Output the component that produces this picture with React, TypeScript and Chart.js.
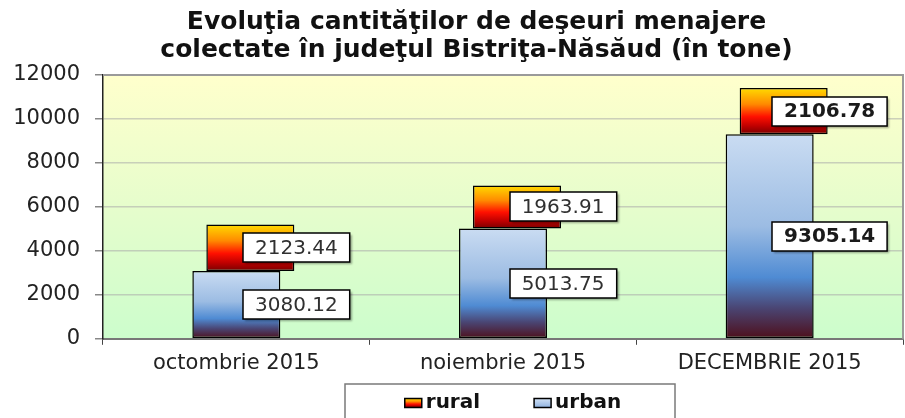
import React, { useEffect, useRef } from 'react';
import { Chart, registerables } from 'chart.js';
Chart.register(...registerables);

const categories = ['octombrie 2015', 'noiembrie 2015', 'DECEMBRIE 2015'];
const urbanValues = [3080.12, 5013.75, 9305.14];
const ruralValues = [2123.44, 1963.91, 2106.78];
const yMin = 0;
const yMax = 12000;
const yStep = 2000;
const titleLines = [
  'Evoluţia cantităţilor de deşeuri menajere',
  'colectate în judeţul Bistriţa-Năsăud (în tone)',
];
const legendNames = ['rural', 'urban'];
const boldLabelIndex = 2;

const FONT = '"DejaVu Sans", "Liberation Sans", Arial, sans-serif';
const RURAL_SHIFT = 14;

function urbanGradient(ctx: CanvasRenderingContext2D, top: number, bottom: number) {
  const g = ctx.createLinearGradient(0, top, 0, bottom);
  g.addColorStop(0, '#cadcf2');
  g.addColorStop(0.45, '#9cbce3');
  g.addColorStop(0.7, '#4f8bd3');
  g.addColorStop(0.85, '#4a4573');
  g.addColorStop(1, '#4e0e1a');
  return g;
}

function ruralGradient(ctx: CanvasRenderingContext2D, top: number, bottom: number) {
  const g = ctx.createLinearGradient(0, top, 0, bottom);
  g.addColorStop(0, '#ffdc00');
  g.addColorStop(0.35, '#ff8a00');
  g.addColorStop(0.62, '#ff1000');
  g.addColorStop(0.82, '#c00000');
  g.addColorStop(1, '#780000');
  return g;
}

const bgPlugin = {
  id: 'bgPlugin',
  beforeDraw(chart: any) {
    const { ctx, chartArea: a } = chart;
    ctx.save();
    ctx.fillStyle = '#ffffff';
    ctx.fillRect(0, 0, chart.width, chart.height);
    const g = ctx.createLinearGradient(0, a.top, 0, a.bottom);
    g.addColorStop(0, '#ffffcc');
    g.addColorStop(0.5, '#e6fdcc');
    g.addColorStop(1, '#ccfdcc');
    ctx.fillStyle = g;
    ctx.fillRect(a.left, a.top, a.right - a.left, a.bottom - a.top);
    ctx.restore();
  },
};

const shiftPlugin = {
  id: 'shiftPlugin',
  beforeDatasetDraw(chart: any, args: any) {
    if (args.index === 1) {
      chart.ctx.save();
      chart.ctx.translate(RURAL_SHIFT, 0);
    }
  },
  afterDatasetDraw(chart: any, args: any) {
    if (args.index === 1) chart.ctx.restore();
  },
};

const framePlugin = {
  id: 'framePlugin',
  beforeDatasetsDraw(chart: any) {
    const { ctx, chartArea: a } = chart;
    ctx.save();
    ctx.strokeStyle = '#9a9a9a';
    ctx.lineWidth = 2;
    ctx.beginPath();
    ctx.moveTo(a.left, a.top);
    ctx.lineTo(a.right, a.top);
    ctx.lineTo(a.right, a.bottom);
    ctx.stroke();
    ctx.restore();
  },
};

const labelPlugin = {
  id: 'labelPlugin',
  afterDatasetsDraw(chart: any) {
    const ctx = chart.ctx;
    const urbanMeta = chart.getDatasetMeta(0);
    const ruralMeta = chart.getDatasetMeta(1);
    const draw = (text: string, cx: number, cy: number, bold: boolean) => {
      ctx.save();
      ctx.font = `${bold ? 'bold ' : ''}20px ${FONT}`;
      const w = ctx.measureText(text).width + 24;
      const h = 29;
      const x = Math.round(cx - w / 2);
      const y = Math.round(cy - h / 2);
      ctx.shadowColor = 'rgba(0,0,0,0.35)';
      ctx.shadowOffsetX = 2;
      ctx.shadowOffsetY = 2;
      ctx.shadowBlur = 2;
      ctx.fillStyle = '#ffffff';
      ctx.fillRect(x, y, w, h);
      ctx.shadowColor = 'transparent';
      ctx.strokeStyle = '#000000';
      ctx.lineWidth = 1.5;
      ctx.strokeRect(x, y, w, h);
      ctx.fillStyle = bold ? '#1a1a1a' : '#303030';
      ctx.textAlign = 'center';
      ctx.textBaseline = 'middle';
      ctx.fillText(text, cx, cy + 1);
      ctx.restore();
    };
    urbanMeta.data.forEach((el: any, i: number) => {
      draw(urbanValues[i].toFixed(2), el.x + 60, (el.y + el.base) / 2, i === boldLabelIndex);
    });
    ruralMeta.data.forEach((el: any, i: number) => {
      draw(ruralValues[i].toFixed(2), el.x + 60, (el.y + el.base) / 2, i === boldLabelIndex);
    });
  },
};

const titlePlugin = {
  id: 'titlePlugin',
  afterDraw(chart: any) {
    const ctx = chart.ctx;
    ctx.save();
    ctx.font = `bold 25px ${FONT}`;
    ctx.fillStyle = '#111111';
    ctx.textAlign = 'center';
    ctx.textBaseline = 'middle';
    const cx = chart.width / 2 + 24;
    ctx.fillText(titleLines[0], cx, 22);
    ctx.fillText(titleLines[1], cx, 50);
    ctx.restore();
  },
};

const legendPlugin = {
  id: 'legendPlugin',
  afterDraw(chart: any) {
    const { ctx, chartArea: a } = chart;
    ctx.save();
    ctx.font = `bold 20px ${FONT}`;
    const sw = 17;
    const sh = 9;
    const gap = 4;
    const spacing = 54;
    const w1 = ctx.measureText(legendNames[0]).width;
    const w2 = ctx.measureText(legendNames[1]).width;
    const total = sw + gap + w1 + spacing + sw + gap + w2;
    const cx = (a.left + a.right) / 2 + 10;
    const cy = 403;
    const bw = 330;
    ctx.strokeStyle = '#7a7a7a';
    ctx.lineWidth = 1.5;
    ctx.strokeRect(Math.round(cx - 3 - bw / 2), 384, bw, 60);
    let x = cx - total / 2;
    const swatch = (fill: any) => {
      ctx.fillStyle = fill;
      ctx.fillRect(x, cy - sh / 2, sw, sh);
      ctx.strokeStyle = '#000';
      ctx.lineWidth = 1.5;
      ctx.strokeRect(x, cy - sh / 2, sw, sh);
    };
    swatch(ruralGradient(ctx, cy - sh / 2, cy + sh / 2));
    x += sw + gap;
    ctx.fillStyle = '#111';
    ctx.textAlign = 'left';
    ctx.textBaseline = 'middle';
    ctx.fillText(legendNames[0], x, cy);
    x += w1 + spacing;
    const ug = ctx.createLinearGradient(0, cy - sh / 2, 0, cy + sh / 2);
    ug.addColorStop(0, '#d2e2f5');
    ug.addColorStop(1, '#8fb2df');
    swatch(ug);
    x += sw + gap;
    ctx.fillStyle = '#111';
    ctx.fillText(legendNames[1], x, cy);
    ctx.restore();
  },
};

export default function App() {
  const ref = useRef<HTMLCanvasElement | null>(null);
  useEffect(() => {
    if (!ref.current) return;
    const chart = new Chart(ref.current, {
      type: 'bar',
      data: {
        labels: categories,
        datasets: [
          {
            label: legendNames[1],
            data: urbanValues,
            backgroundColor: (c: any) => {
              const ch = c.chart;
              if (c.type !== 'data' || !ch.chartArea || !ch.scales.y) return '#8fb2df';
              const ys = ch.scales.y;
              return urbanGradient(ch.ctx, ys.getPixelForValue(urbanValues[c.dataIndex]), ys.getPixelForValue(0));
            },
            borderColor: '#000000',
            borderWidth: 1.5,
            borderSkipped: false,
            categoryPercentage: 0.33,
            barPercentage: 1,
          },
          {
            label: legendNames[0],
            data: ruralValues,
            backgroundColor: (c: any) => {
              const ch = c.chart;
              if (c.type !== 'data' || !ch.chartArea || !ch.scales.y) return '#ff4000';
              const ys = ch.scales.y;
              const i = c.dataIndex;
              return ruralGradient(
                ch.ctx,
                ys.getPixelForValue(urbanValues[i] + ruralValues[i]),
                ys.getPixelForValue(urbanValues[i])
              );
            },
            borderColor: '#000000',
            borderWidth: 1.5,
            borderSkipped: false,
            categoryPercentage: 0.33,
            barPercentage: 1,
          },
        ],
      },
      options: {
        responsive: false,
        animation: false,
        layout: { padding: { top: 75, left: 8, right: 2, bottom: 36 } },
        plugins: {
          legend: { display: false },
          title: { display: false },
          tooltip: { enabled: false },
        },
        scales: {
          x: {
            stacked: true,
            offset: true,
            grid: {
              display: true,
              offset: true,
              drawOnChartArea: false,
              tickLength: 6,
              tickColor: '#444',
              tickWidth: 1,
            },
            border: { color: '#777', width: 2 },
            ticks: {
              color: '#222',
              font: { family: FONT, size: 21 },
              padding: 6,
              maxRotation: 0,
              autoSkip: false,
            },
          },
          y: {
            stacked: true,
            min: yMin,
            max: yMax,
            afterFit: (scale: any) => {
              scale.width = 95;
            },
            grid: {
              color: 'rgba(170,170,170,0.55)',
              lineWidth: 1.5,
              tickLength: 8,
              tickColor: '#888',
              tickWidth: 1.5,
            },
            border: { color: '#222', width: 1.5 },
            ticks: {
              stepSize: yStep,
              color: '#222',
              font: { family: FONT, size: 21 },
              padding: 15,
              callback: (v: any) => String(v),
            },
          },
        },
      },
      plugins: [bgPlugin, shiftPlugin, framePlugin, labelPlugin, titlePlugin, legendPlugin],
    });
    return () => chart.destroy();
  }, []);
  return (
    <div style={{ position: 'absolute', left: 0, top: 0, width: 905, height: 418 }}>
      <canvas ref={ref} width={905} height={418} style={{ display: 'block', width: 905, height: 418 }} />
    </div>
  );
}
